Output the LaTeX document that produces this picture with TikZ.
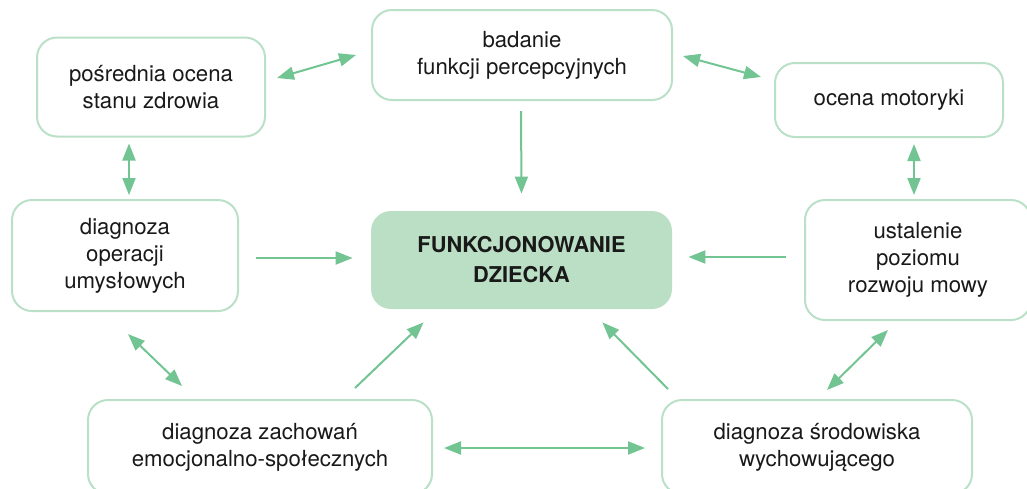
\documentclass[tikz,border=0pt]{standalone}
\usepackage{fontspec}
\setmainfont{TeX Gyre Heros}
\usepackage{tikz}
\usetikzlibrary{calc, arrows.meta}
\tikzset{>={Triangle[length=8.5pt,width=6.5pt]}}
\definecolor{mygreen}{RGB}{114, 196, 146}
\definecolor{myborder}{RGB}{186, 224, 199}
\definecolor{myfill}{RGB}{187, 223, 197}

\begin{document}
\begin{tikzpicture}[x=0.5pt, y=-0.5pt,
  box/.style={draw=myborder, line width=1pt, rounded corners=10pt, align=center, inner sep=0pt, text=black!90, font=\fontsize{11.1}{13.5}\selectfont},
  mainbox/.style={fill=myfill, rounded corners=10pt, align=center, inner sep=0pt, text=black!90, font=\fontsize{10.9}{15}\selectfont\bfseries},
  link/.style={draw=mygreen, line width=1pt}]
\clip (0,0) rectangle (1027,488);
\node[box, minimum width=114pt, minimum height=49.5pt] (zdrowie) at (151,87) {pośrednia ocena\\stanu zdrowia};
\node[box, minimum width=150pt, minimum height=45pt] (badanie) at (522,55) {badanie\\funkcji percepcyjnych};
\node[box, minimum width=114pt, minimum height=37pt] (motoryka) at (889,100) {ocena motoryki};
\node[box, minimum width=113pt, minimum height=55.5pt] (operacje) at (125,255.5) {diagnoza\\operacji\\umysłowych};
\node[mainbox, minimum width=150.5pt, minimum height=49pt] (dziecko) at (521.5,260) {FUNKCJONOWANIE\\DZIECKA};
\node[box, minimum width=113pt, minimum height=60pt] (mowa) at (918,260) {ustalenie\\poziomu\\rozwoju mowy};
\node[box, minimum width=172pt, minimum height=47pt] (zachowania) at (260,447) {diagnoza zachowań\\emocjonalno-społecznych};
\node[box, minimum width=155pt, minimum height=47pt] (srodowisko) at (817,447) {diagnoza środowiska\\wychowującego};
% strzalki
\draw[link,<->] ($(zdrowie.east)+(11,-9)$) -- ($(badanie.west)+(-15,0)$);
\draw[link,<->] ($(badanie.east)+(10,1)$) -- ($(motoryka.west)+(-13,-23)$);
\draw[link,<->] ($(zdrowie.south)+(-22,6)$) -- ($(operacje.north)+(4,-4)$);
\draw[link,<->] ($(motoryka.south)+(25,6)$) -- ($(mowa.north)+(-4,-4)$);
\draw[link,->] ($(badanie.south)+(-1,10)$) -- ($(dziecko.north)+(0,-17)$);
\draw[link,->] ($(operacje.east)+(17,2.5)$) -- ($(dziecko.west)+(-18,-2)$);
\draw[link,->] ($(mowa.west)+(-18,-3)$) -- ($(dziecko.east)+(16,-3)$);
\draw[link,<->] ($(operacje.south)+(3,22)$) -- ($(zachowania.north)+(-78,-13)$);
\draw[link,->] ($(zachowania.north)+(95,-11)$) -- ($(dziecko.south west)+(53,13)$);
\draw[link,<->] ($(zachowania.east)+(11,1)$) -- ($(srodowisko.west)+(-16,1)$);
\draw[link,->] ($(srodowisko.north west)+(7,-10)$) -- ($(dziecko.south east)+(-70,13)$);
\draw[link,<->] ($(srodowisko.north)+(10,-9)$) -- ($(mowa.south)+(-30,9)$);
\end{tikzpicture}
\end{document}
